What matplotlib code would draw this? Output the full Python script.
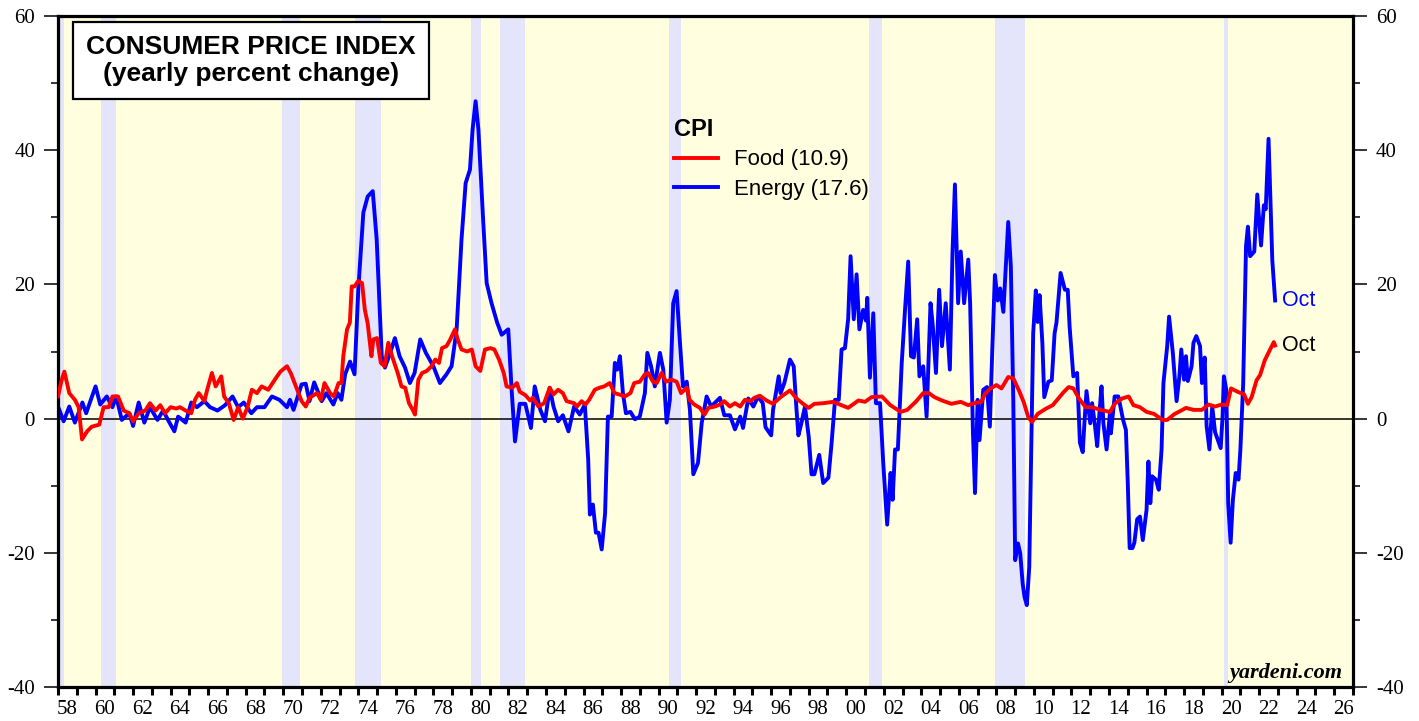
import matplotlib
matplotlib.use("Agg")
import matplotlib.pyplot as plt
import numpy as np

# CPI yearly percent change (decimal year, percent)
energy_t = [1958.0, 1958.3, 1958.6, 1958.9, 1959.3, 1959.5, 1960.0, 1960.25, 1960.6, 1960.9,
            1961.1, 1961.4, 1961.8, 1962.0, 1962.3, 1962.6, 1962.9, 1963.3, 1963.6, 1963.9,
            1964.2, 1964.4, 1964.8, 1965.1, 1965.4, 1965.8, 1966.1, 1966.5, 1966.9, 1967.3,
            1967.6, 1967.9, 1968.3, 1968.6, 1969.0, 1969.4, 1969.8, 1970.2, 1970.36, 1970.55,
            1970.98, 1971.2, 1971.4, 1971.65, 1972.05, 1972.3, 1972.67, 1972.9, 1973.1, 1973.3,
            1973.56, 1973.8, 1974.0, 1974.27, 1974.5, 1974.77, 1974.98, 1975.25, 1975.42, 1975.7,
            1975.95, 1976.2, 1976.49, 1976.75, 1977.0, 1977.3, 1977.6, 1978.0, 1978.35, 1978.7,
            1978.97, 1979.24, 1979.5, 1979.72, 1979.95, 1980.09, 1980.25, 1980.4, 1980.66, 1980.84,
            1981.1, 1981.4, 1981.64, 1981.99, 1982.17, 1982.35, 1982.6, 1982.9, 1983.2, 1983.4,
            1983.7, 1983.95, 1984.2, 1984.4, 1984.65, 1984.9, 1985.2, 1985.5, 1985.8, 1986.07,
            1986.25, 1986.34, 1986.5, 1986.66, 1986.8, 1986.97, 1987.15, 1987.3, 1987.5, 1987.67,
            1987.8, 1987.94, 1988.1, 1988.26, 1988.5, 1988.74, 1989.0, 1989.27, 1989.4, 1989.6,
            1989.8, 1990.07, 1990.25, 1990.43, 1990.6, 1990.78, 1990.96, 1991.14, 1991.3, 1991.5,
            1991.67, 1991.85, 1992.1, 1992.3, 1992.56, 1992.8, 1993.27, 1993.5, 1993.8, 1994.07,
            1994.35, 1994.5, 1994.78, 1995.05, 1995.3, 1995.55, 1995.7, 1996.0, 1996.1, 1996.4,
            1996.5, 1996.7, 1997.0, 1997.2, 1997.35, 1997.45, 1997.6, 1997.8, 1998.0, 1998.15,
            1998.3, 1998.56, 1998.77, 1999.05, 1999.22, 1999.4, 1999.6, 1999.75, 1999.93, 2000.1,
            2000.23, 2000.4, 2000.55, 2000.7, 2000.9, 2001.05, 2001.12, 2001.26, 2001.44, 2001.58,
            2001.8, 2001.97, 2002.18, 2002.36, 2002.47, 2002.6, 2002.75, 2002.95, 2003.13, 2003.3,
            2003.45, 2003.6, 2003.78, 2003.9, 2004.1, 2004.28, 2004.49, 2004.6, 2004.78, 2004.95,
            2005.1, 2005.3, 2005.52, 2005.66, 2005.79, 2005.96, 2006.1, 2006.28, 2006.5, 2006.6,
            2006.75, 2006.86, 2007.0, 2007.1, 2007.3, 2007.5, 2007.65, 2007.78, 2007.92, 2008.07,
            2008.2, 2008.37, 2008.5, 2008.63, 2008.77, 2008.9, 2009.0, 2009.15, 2009.27, 2009.4,
            2009.5, 2009.62, 2009.75, 2009.84, 2009.96, 2010.1, 2010.2, 2010.3, 2010.45, 2010.55,
            2010.77, 2010.95, 2011.1, 2011.2, 2011.42, 2011.65, 2011.8, 2011.9, 2012.1, 2012.3,
            2012.45, 2012.6, 2012.7, 2012.8, 2013.0, 2013.1, 2013.25, 2013.37, 2013.5, 2013.6,
            2013.7, 2013.87, 2014.05, 2014.1, 2014.3, 2014.5, 2014.75, 2014.9, 2015.0, 2015.1,
            2015.25, 2015.35, 2015.5, 2015.65, 2015.8, 2016.0, 2016.1, 2016.2, 2016.3, 2016.5,
            2016.65, 2016.8, 2016.9, 2017.1, 2017.2, 2017.4, 2017.5, 2017.6, 2017.75, 2017.85,
            2018.0, 2018.1, 2018.2, 2018.4, 2018.5, 2018.65, 2018.85, 2018.95, 2019.1, 2019.2,
            2019.35, 2019.5, 2019.65, 2019.8, 2019.95, 2020.05, 2020.12, 2020.25, 2020.35, 2020.48,
            2020.6, 2020.75, 2020.9, 2021.0, 2021.15, 2021.3, 2021.4, 2021.52, 2021.74, 2021.9,
            2022.1, 2022.25, 2022.35, 2022.5, 2022.6, 2022.7, 2022.85]
energy_v = [1.8, -0.4, 1.8, -0.6, 2.4, 0.8, 4.8, 2.1, 3.3, 1.7,
            3.3, -0.2, 0.8, -1.1, 2.4, -0.6, 1.7, -0.2, 1.2, -0.4,
            -1.9, 0.3, -0.6, 2.4, 1.7, 2.6, 1.7, 1.2, 2.0, 3.3,
            1.7, 2.4, 0.8, 1.7, 1.7, 3.3, 2.8, 1.7, 2.8, 1.3,
            5.1, 5.2, 2.6, 5.4, 2.6, 3.8, 2.1, 3.8, 2.8, 6.6,
            8.5, 6.6, 19.2, 30.7, 33.1, 33.9, 26.7, 9.3, 7.6, 9.8,
            12.0, 9.3, 7.6, 5.3, 6.8, 11.8, 9.8, 7.8, 5.3, 6.6,
            7.8, 13.3, 26.7, 35.1, 37.1, 43.1, 47.3, 43.1, 29.2, 20.2,
            17.2, 14.3, 12.5, 13.3, 4.3, -3.4, 2.2, 2.2, -1.4, 4.8,
            1.3, -0.4, 4.6, 1.8, -0.4, 0.5, -1.9, 1.8, 0.6, 2.1,
            -6.1, -14.3, -12.8, -17.0, -17.0, -19.5, -14.1, 0.3, 0.3, 8.3,
            7.3, 9.3, 3.8, 0.8, 1.0, -0.1, 0.3, 3.8, 9.8, 7.8,
            4.8, 9.8, 7.3, -0.6, 2.8, 17.2, 19.0, 11.3, 4.8, 5.5,
            1.3, -8.3, -6.6, -0.6, 3.3, 1.8, 3.1, 0.5, 0.5, -1.6,
            0.3, -1.4, 3.0, 1.8, 3.3, 2.3, -1.3, -2.5, 1.3, 6.3,
            3.8, 5.3, 8.8, 7.8, 1.3, -2.5, -0.8, 1.8, -2.7, -8.3,
            -8.3, -5.4, -9.6, -8.8, -3.6, 2.8, 2.8, 10.3, 10.5, 14.8,
            24.2, 14.8, 21.5, 13.3, 16.2, 14.6, 18.0, 6.1, 15.7, 2.3,
            2.3, -6.6, -15.8, -8.1, -12.1, -4.6, -4.6, 8.0, 16.2, 23.4,
            9.3, 9.1, 14.8, 6.3, 7.8, 0.3, 17.2, 14.2, 6.8, 19.2,
            10.8, 17.2, 7.3, 24.7, 34.9, 17.2, 24.9, 17.2, 23.7, 17.2,
            -2.1, -11.1, 2.8, -3.2, 4.3, 4.7, -1.2, 10.2, 21.4, 17.6,
            19.4, 15.9, 22.6, 29.3, 22.6, 2.7, -21.1, -18.6, -20.1, -24.6,
            -26.6, -27.8, -22.1, -7.2, 12.7, 19.1, 14.4, 18.4, 11.2, 3.2,
            5.5, 5.7, 12.7, 14.3, 21.7, 19.2, 19.2, 13.7, 6.3, 6.8,
            -3.6, -5.0, -0.2, 4.1, -0.7, 2.3, -1.0, -4.1, 1.2, 4.8,
            -0.7, -4.6, 0.8, -2.2, 3.3, 3.3, -0.2, -1.7, -9.6, -19.3,
            -19.3, -18.5, -15.0, -14.6, -18.1, -13.6, -6.4, -12.6, -8.6, -9.1,
            -10.6, -4.6, 5.3, 10.8, 15.2, 9.8, 6.3, 2.6, 6.3, 10.3,
            5.8, 9.3, 5.6, 7.8, 11.3, 12.3, 10.8, 5.3, 9.1, -1.1,
            -4.6, 1.8, -2.0, -3.2, -4.4, 0.3, 6.3, 4.3, -12.6, -18.5,
            -12.1, -8.1, -9.1, -4.6, 5.3, 25.7, 28.6, 24.2, 24.9, 33.4,
            25.8, 31.8, 31.2, 41.7, 32.5, 23.6, 17.6]

food_t = [1958.0, 1958.2, 1958.34, 1958.6, 1958.9, 1959.1, 1959.28, 1959.55, 1959.8, 1960.2,
          1960.43, 1960.7, 1960.9, 1961.2, 1961.5, 1961.8, 1962.0, 1962.3, 1962.65, 1962.9,
          1963.2, 1963.45, 1963.7, 1964.0, 1964.3, 1964.5, 1964.8, 1965.1, 1965.3, 1965.5,
          1965.8, 1965.95, 1966.2, 1966.4, 1966.7, 1966.85, 1967.1, 1967.36, 1967.6, 1967.85,
          1968.1, 1968.33, 1968.6, 1968.85, 1969.2, 1969.6, 1969.85, 1970.2, 1970.4, 1970.65,
          1970.98, 1971.2, 1971.4, 1971.8, 1972.0, 1972.2, 1972.5, 1972.7, 1972.95, 1973.1,
          1973.2, 1973.4, 1973.55, 1973.65, 1973.8, 1974.0, 1974.2, 1974.35, 1974.5, 1974.7,
          1974.8, 1975.0, 1975.2, 1975.4, 1975.6, 1975.8, 1976.1, 1976.3, 1976.5, 1976.7,
          1976.9, 1977.02, 1977.2, 1977.4, 1977.65, 1977.9, 1978.1, 1978.3, 1978.46, 1978.7,
          1978.9, 1979.15, 1979.3, 1979.5, 1979.8, 1980.05, 1980.25, 1980.5, 1980.75, 1981.05,
          1981.25, 1981.5, 1981.75, 1981.9, 1982.2, 1982.45, 1982.6, 1982.9, 1983.15, 1983.3,
          1983.6, 1983.9, 1984.2, 1984.4, 1984.65, 1984.9, 1985.1, 1985.5, 1985.65, 1985.9,
          1986.1, 1986.3, 1986.6, 1986.85, 1987.1, 1987.4, 1987.65, 1987.9, 1988.2, 1988.5,
          1988.7, 1989.0, 1989.27, 1989.45, 1989.7, 1989.9, 1990.16, 1990.4, 1990.7, 1990.96,
          1991.2, 1991.5, 1991.65, 1991.9, 1992.2, 1992.45, 1992.65, 1993.0, 1993.27, 1993.5,
          1993.8, 1994.07, 1994.35, 1994.6, 1994.9, 1995.1, 1995.4, 1995.75, 1996.1, 1996.5,
          1997.0, 1997.35, 1997.7, 1998.0, 1998.3, 1998.8, 1999.3, 1999.75, 2000.1, 2000.65,
          2001.0, 2001.35, 2001.9, 2002.35, 2002.9, 2003.25, 2003.7, 2004.1, 2004.4, 2004.7,
          2005.1, 2005.6, 2006.1, 2006.5, 2006.8, 2007.2, 2007.39, 2007.7, 2008.0, 2008.27,
          2008.63, 2008.9, 2009.2, 2009.45, 2009.7, 2009.9, 2010.2, 2010.65, 2011.0, 2011.3,
          2011.6, 2011.85, 2012.1, 2012.4, 2012.75, 2013.1, 2013.55, 2014.05, 2014.3, 2014.7,
          2015.05, 2015.3, 2015.65, 2016.0, 2016.4, 2016.85, 2017.1, 2017.5, 2017.85, 2018.1,
          2018.5, 2018.95, 2019.3, 2019.65, 2020.0, 2020.3, 2020.5, 2020.85, 2021.2, 2021.4,
          2021.6, 2021.86, 2022.05, 2022.3, 2022.6, 2022.78, 2022.85]
food_v = [3.3, 5.8, 7.0, 3.8, 2.8, 1.7, -3.1, -1.9, -1.2, -0.9,
          1.7, 1.7, 3.3, 3.3, 1.2, 0.8, -0.4, 0.8, 1.2, 2.3,
          1.2, 2.0, 0.8, 1.7, 1.5, 1.7, 1.2, 0.8, 2.8, 3.8,
          2.6, 4.3, 6.8, 4.8, 6.3, 3.3, 2.3, -0.2, 1.7, 0.0,
          1.7, 4.3, 3.8, 4.8, 4.3, 6.0, 7.0, 7.8, 6.8, 5.0,
          2.6, 1.8, 3.1, 3.8, 2.8, 5.3, 3.8, 3.3, 5.3, 5.3,
          9.3, 13.3, 14.3, 19.7, 19.7, 20.5, 20.2, 16.2, 14.2, 9.3,
          11.8, 12.0, 8.3, 7.8, 11.3, 9.3, 6.8, 4.8, 4.6, 2.3,
          1.3, 0.6, 5.8, 6.8, 7.1, 7.8, 8.8, 8.3, 10.5, 10.8,
          11.8, 13.3, 11.8, 10.3, 10.0, 10.3, 7.8, 7.1, 10.3, 10.5,
          10.3, 8.8, 6.8, 4.8, 4.6, 5.3, 4.0, 3.5, 2.7, 3.1,
          1.8, 2.3, 4.6, 3.6, 4.3, 3.8, 2.6, 2.3, 1.8, 2.6,
          2.1, 2.8, 4.3, 4.6, 4.8, 5.3, 3.8, 3.6, 3.3, 3.8,
          5.3, 5.5, 6.6, 6.8, 5.5, 5.3, 6.8, 5.5, 5.8, 5.5,
          3.8, 4.6, 2.8, 2.1, 1.6, 0.6, 1.6, 1.8, 2.1, 2.6,
          1.8, 2.3, 1.8, 2.8, 2.6, 3.1, 3.4, 2.7, 2.2, 3.2,
          4.2, 3.0, 2.2, 1.6, 2.2, 2.3, 2.5, 2.0, 1.6, 2.7,
          2.5, 3.2, 3.3, 2.0, 1.0, 1.3, 2.5, 3.8, 3.8, 3.2,
          2.7, 2.2, 2.5, 2.0, 2.3, 2.5, 3.7, 4.5, 5.0, 4.5,
          6.2, 6.0, 4.2, 2.5, 0.2, -0.5, 0.7, 1.5, 2.0, 3.0,
          4.0, 4.7, 4.5, 3.0, 1.7, 1.7, 1.3, 1.0, 2.2, 3.0,
          3.3, 2.0, 1.7, 1.0, 0.7, -0.2, -0.2, 0.7, 1.2, 1.6,
          1.3, 1.3, 2.1, 1.8, 2.1, 2.0, 4.5, 4.0, 3.6, 2.2,
          3.2, 5.7, 6.5, 8.7, 10.4, 11.4, 10.9]

# NBER recessions (start, end)
recessions = [(1957.6, 1958.3), (1960.3, 1961.1), (1969.95, 1970.9), (1973.85, 1975.2),
              (1980.0, 1980.55), (1981.55, 1982.9), (1990.55, 1991.2), (2001.2, 2001.9),
              (2007.95, 2009.5), (2020.15, 2020.35)]

year_labels = [str(y % 100).zfill(2) for y in range(1958, 2027, 2)]

RED = '#FF0000'
BLUE = '#0000FF'
SERIF = 'Liberation Serif'
SANS = 'Liberation Sans'

fig = plt.figure(figsize=(14.19, 7.21), dpi=100)
ax = fig.add_axes([58 / 1419, 1 - 687 / 721, 1295 / 1419, 671 / 721])
ax.set_facecolor('#FFFFE0')

for start, end in recessions:
	ax.axvspan(start, end, color='#E4E4FA', lw=0, zorder=0)

ax.axhline(0, color='black', lw=1.1, zorder=1)
ax.plot(food_t, food_v, color=RED, lw=2.8, zorder=3, solid_joinstyle='round', label='Food (10.9)')
ax.plot(energy_t, energy_v, color=BLUE, lw=2.8, zorder=2, solid_joinstyle='round', label='Energy (17.6)')

ax.set_xlim(1958, 2027)
ax.set_ylim(-40, 60)

# x axis: tick each year, labels centred inside the even years
ax.set_xticks(np.arange(1958, 2028))
ax.set_xticklabels([])
ax.set_xticks(np.arange(1958, 2027, 2) + 0.5, minor=True)
ax.set_xticklabels(year_labels, minor=True, fontfamily=SERIF, fontsize=15)
ax.tick_params(axis='x', which='major', direction='out', length=6, width=2.2)
ax.tick_params(axis='x', which='minor', length=0, pad=9)

ax.set_yticks(np.arange(-40, 61, 20))
ax.set_yticks(np.arange(-30, 60, 20), minor=True)
ax.tick_params(axis='y', which='major', direction='out', length=10, width=1.1, pad=6.5,
	left=True, right=True, labelleft=True, labelright=True)
ax.tick_params(axis='y', which='minor', direction='out', length=5, width=1.1, left=True, right=True)
ax.yaxis.set_major_formatter(plt.FuncFormatter(lambda v, p: f'{v:.0f}'))
for lab in ax.get_yticklabels():
	lab.set_fontfamily(SERIF)
	lab.set_fontsize(15)

for sp in ax.spines.values():
	sp.set_linewidth(2.3)

# title box
ax.text(0.149, 0.934, 'CONSUMER PRICE INDEX\n(yearly percent change)', transform=ax.transAxes,
	ha='center', va='center', fontsize=19, fontweight='bold', fontfamily=SANS,
	linespacing=1.15, zorder=5,
	bbox=dict(boxstyle='square,pad=0.5', facecolor='white', edgecolor='black', lw=1.6))

leg = ax.legend(loc='upper left', bbox_to_anchor=(674 / 1419, 1 - 118 / 721),
	bbox_transform=fig.transFigure, frameon=False, title='CPI',
	prop={'family': SANS, 'size': 16}, handlelength=2.0, handletextpad=0.7,
	labelspacing=0.38, borderpad=0, borderaxespad=0, alignment='left')
leg.get_title().set_fontweight('bold')
leg.get_title().set_fontsize(17)
leg.get_title().set_fontfamily(SANS)

# end-of-series labels
ax.text(energy_t[-1] + 0.35, energy_v[-1], 'Oct', color=BLUE, fontsize=15.5, fontfamily=SANS,
	ha='left', va='center', zorder=5)
ax.text(food_t[-1] + 0.35, food_v[-1], 'Oct', color='black', fontsize=15.5, fontfamily=SANS,
	ha='left', va='center', zorder=5)

ax.text(0.9915, 0.014, 'yardeni.com', transform=ax.transAxes, ha='right', va='baseline',
	fontsize=16, fontweight='bold', fontstyle='italic', fontfamily=SERIF, zorder=5)

fig.savefig('out.png', dpi=100)
